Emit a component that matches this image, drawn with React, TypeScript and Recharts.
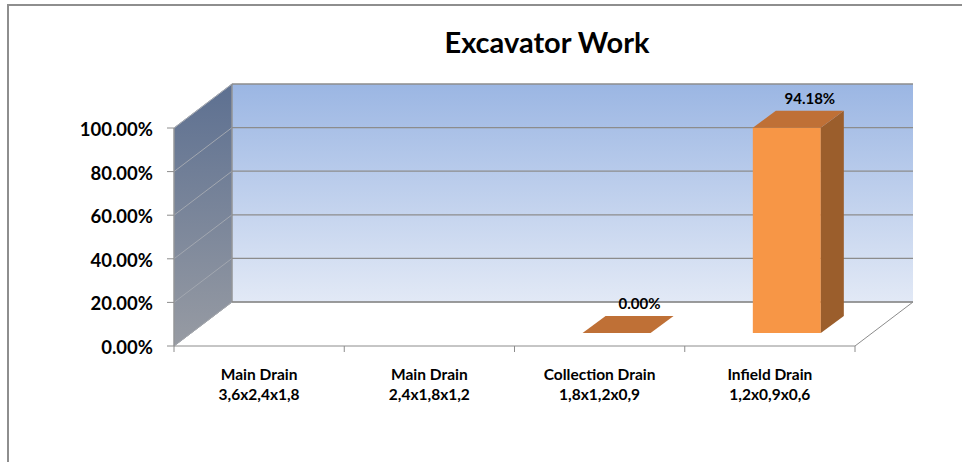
import React from 'react';
import { BarChart, Bar, XAxis, YAxis, LabelList, usePlotArea } from 'recharts';

const categories = [
  'Main Drain\n3,6x2,4x1,8',
  'Main Drain\n2,4x1,8x1,2',
  'Collection Drain\n1,8x1,2x0,9',
  'Infield Drain\n1,2x0,9x0,6',
];
const workValues: (number | null)[] = [null, null, 0, 0.9418];
const yTicks = [0, 0.2, 0.4, 0.6, 0.8, 1];
const titleText = 'Excavator Work';

const data = categories.map((c, i) => ({ name: c, value: workValues[i] }));

const FONT = 'Lato, "Open Sans", sans-serif';
const DX = 58;
const DY = -44;
const BAR_FX = 17;
const BAR_FY = -13;
const BAR_DX = 23;
const BAR_DY = -17;
const GRID = '#8c8c8c';

const Walls = () => {
  const pa = usePlotArea();
  if (!pa) return null;
  const L = pa.x;
  const T = pa.y;
  const R = pa.x + pa.width;
  const B = pa.y + pa.height;
  const n = categories.length;
  const ticks = [];
  for (let i = 0; i <= n; i++) {
    const x = L + (i * (R - L)) / n;
    ticks.push(<line key={i} x1={x} y1={B} x2={x} y2={B + 6} stroke={GRID} strokeWidth={1} />);
  }
  const grid = yTicks.map((v, i) => {
    const y = B - v * (B - T);
    return (
      <g key={`g${i}`}>
        <line x1={L + DX} y1={y + DY} x2={R + DX} y2={y + DY} stroke={GRID} strokeWidth={1.3} />
        <line x1={L} y1={y} x2={L + DX} y2={y + DY} stroke="#a2a7b0" strokeWidth={1} />
      </g>
    );
  });
  return (
    <g>
      <defs>
        <linearGradient id="backWall" x1="0" y1="0" x2="0" y2="1">
          <stop offset="0%" stopColor="#9bb6e3" />
          <stop offset="100%" stopColor="#e2e9f6" />
        </linearGradient>
        <linearGradient id="sideWall" x1="0" y1="0" x2="0" y2="1">
          <stop offset="0%" stopColor="#5d7091" />
          <stop offset="100%" stopColor="#979ba3" />
        </linearGradient>
      </defs>
      <text x={547} y={53} textAnchor="middle" fontFamily={FONT} fontWeight={700} fontSize={29} fill="#000">
        {titleText}
      </text>
      <rect x={L + DX} y={T + DY} width={R - L} height={B - T} fill="url(#backWall)" />
      <polygon
        points={`${L},${T} ${L + DX},${T + DY} ${L + DX},${B + DY} ${L},${B}`}
        fill="url(#sideWall)"
        stroke="#a2a7b0"
        strokeWidth={1}
      />
      <polygon
        points={`${L},${B} ${R},${B} ${R + DX},${B + DY} ${L + DX},${B + DY}`}
        fill="#ffffff"
        stroke={GRID}
        strokeWidth={1}
      />
      {grid}
      <line x1={L + DX} y1={T + DY} x2={L + DX} y2={B + DY} stroke={GRID} strokeWidth={1} />
      {ticks}
    </g>
  );
};

const Bar3D = (props: any) => {
  const { x, y, width, height } = props;
  if (x == null || y == null) return null;
  const fx = x + BAR_FX;
  const fy = y + BAR_FY;
  const h = Math.max(0, height || 0);
  return (
    <g>
      {h > 0 && (
        <>
          <rect x={fx} y={fy} width={width} height={h} fill="#f79646" />
          <polygon
            points={`${fx + width},${fy} ${fx + width + BAR_DX},${fy + BAR_DY} ${fx + width + BAR_DX},${fy + BAR_DY + h} ${fx + width},${fy + h}`}
            fill="#9b5e2c"
          />
        </>
      )}
      <polygon
        points={`${fx},${fy} ${fx + width},${fy} ${fx + width + BAR_DX},${fy + BAR_DY} ${fx + BAR_DX},${fy + BAR_DY}`}
        fill="#bf7036"
      />
    </g>
  );
};

const ValueLabel = (props: any) => {
  const { x, y, width, value } = props;
  if (value == null) return null;
  const cx = x + BAR_FX + BAR_DX + width / 2;
  const cy = y + BAR_FY + BAR_DY - 7;
  return (
    <text x={cx} y={cy} textAnchor="middle" fontFamily={FONT} fontWeight={700} fontSize={15} fill="#000">
      {(value * 100).toFixed(2) + '%'}
    </text>
  );
};

const YTick = (props: any) => {
  const { x, y, payload } = props;
  return (
    <text x={x - 12} y={y + 8} textAnchor="end" fontFamily={FONT} fontWeight={700} fontSize={18.5} fill="#000">
      {(payload.value * 100).toFixed(2) + '%'}
    </text>
  );
};

const XTick = (props: any) => {
  const { x, payload } = props;
  const lines = String(payload.value).split('\n');
  return (
    <g>
      {lines.map((l, i) => (
        <text key={i} x={x} y={380 + i * 20} textAnchor="middle" fontFamily={FONT} fontWeight={700} fontSize={15.5} fill="#000">
          {l}
        </text>
      ))}
    </g>
  );
};

export default function App() {
  return (
    <div style={{ position: 'absolute', left: 0, top: 0, width: 962, height: 462, background: '#fff' }}>
      <div
        style={{
          position: 'absolute',
          left: 7,
          top: 4,
          width: 962,
          height: 470,
          borderTop: '2px solid #8e8e8e',
          borderLeft: '2px solid #8e8e8e',
        }}
      />
      <div style={{ position: 'absolute', left: 0, top: 0 }}>
        <BarChart
          width={962}
          height={462}
          data={data}
          margin={{ top: 128, right: 107, bottom: 56, left: 0 }}
          barCategoryGap="30%"
        >
          <Walls />
          <YAxis
            width={174}
            domain={[0, 1]}
            ticks={yTicks}
            interval={0}
            axisLine={{ stroke: GRID }}
            tickLine={{ stroke: GRID }}
            tickSize={7}
            tick={<YTick />}
          />
          <XAxis
            dataKey="name"
            height={60}
            interval={0}
            axisLine={false}
            tickLine={false}
            tick={<XTick />}
          />
          <Bar dataKey="value" isAnimationActive={false} shape={<Bar3D />}>
            <LabelList dataKey="value" content={<ValueLabel />} />
          </Bar>
        </BarChart>
      </div>
    </div>
  );
}
